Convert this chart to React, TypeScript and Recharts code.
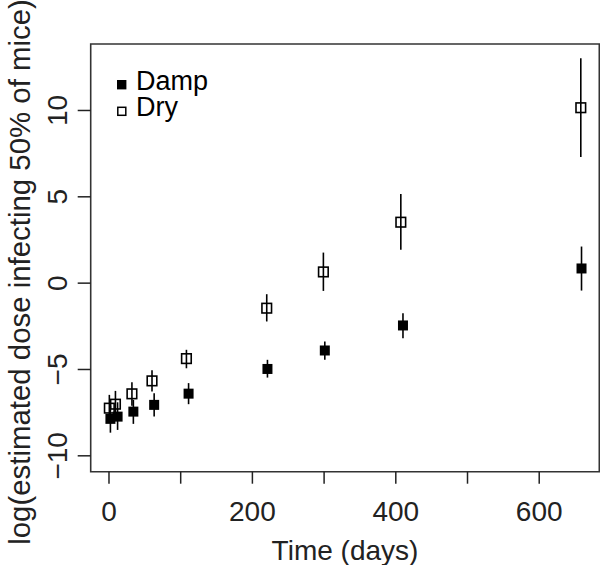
import { ScatterChart, Scatter, XAxis, YAxis, ErrorBar, ReferenceArea, Legend } from 'recharts'

// time points (days), one set per condition (slightly jittered in the source)
const dampDays = [2, 12, 34, 63, 111, 221, 301, 410, 659]
const dampDose = [-7.86, -7.73, -7.44, -7.05, -6.4, -4.97, -3.9, -2.45, 0.85]
const dampLow = [-8.66, -8.5, -8.15, -7.73, -7.01, -5.47, -4.44, -3.19, -0.43]
const dampHigh = [-7.1, -6.9, -6.76, -6.37, -5.79, -4.44, -3.38, -1.74, 2.12]

const dryDays = [0.5, 9, 32, 60, 108, 220, 299, 407, 658]
const dryDose = [-7.24, -7.01, -6.41, -5.66, -4.37, -1.45, 0.65, 3.53, 10.16]
const dryLow = [-7.9, -7.7, -7.1, -6.28, -4.93, -2.22, -0.45, 1.93, 7.3]
const dryHigh = [-6.47, -6.24, -5.74, -5.04, -3.86, -0.64, 1.77, 5.16, 13.03]

const xTicks = [0, 100, 200, 300, 400, 500, 600]
const xLabelled = [0, 200, 400, 600]
const yTicks = [-10, -5, 0, 5, 10]

const X_DOMAIN: [number, number] = [-25.5, 683.8]
const Y_DOMAIN: [number, number] = [-10.92, 13.85]

const W = 600
const H = 565
const LEFT = 90.7
const TOP = 44
const BOTTOM = 471.7
const FONT = '"Liberation Sans", Arial, sans-serif'
const INK = '#222'

const toRows = (xs: number[], ys: number[], lo: number[], hi: number[]) =>
  xs.map((x, i) => ({ x, y: ys[i], err: [ys[i] - lo[i], hi[i] - ys[i]] }))

const dampRows = toRows(dampDays, dampDose, dampLow, dampHigh)
const dryRows = toRows(dryDays, dryDose, dryLow, dryHigh)

const FilledSquare = (p: any) => (
  <rect x={p.cx - 5} y={p.cy - 5} width={10} height={10} fill="#000" />
)
const OpenSquare = (p: any) => (
  <rect x={p.cx - 4.8} y={p.cy - 4.8} width={9.6} height={9.6} fill="none" stroke="#000" strokeWidth={1.6} />
)

const XTick = (p: any) => {
  const v = p.payload.value
  if (!xLabelled.includes(v)) return <g />
  return (
    <text x={p.x} y={BOTTOM + 49} textAnchor="middle" fontSize={28} fontFamily={FONT} fill={INK}>
      {v}
    </text>
  )
}

const YTick = (p: any) => {
  const bx = LEFT - 24
  const v = p.payload.value
  return (
    <text
      x={bx}
      y={p.y}
      transform={`rotate(-90, ${bx}, ${p.y})`}
      textAnchor="middle"
      fontSize={28}
      fontFamily={FONT}
      fill={INK}
    >
      {v < 0 ? `\u2212${Math.abs(v)}` : v}
    </text>
  )
}

// the title runs past the top edge in the original too
const YTitle = () => {
  const bx = 30
  const cy = 272
  return (
    <text
      x={bx}
      y={cy}
      transform={`rotate(-90, ${bx}, ${cy})`}
      textAnchor="middle"
      fontSize={29.4}
      fontFamily={FONT}
      fill={INK}
    >
      log(estimated dose infecting 50% of mice)
    </text>
  )
}

const XTitle = () => (
  <text x={345} y={560} textAnchor="middle" fontSize={28} fontFamily={FONT} fill={INK}>
    Time (days)
  </text>
)

const LegendBox = () => (
  <svg width={120} height={60} style={{ overflow: 'visible' }}>
    <rect x={0} y={0} width={9.4} height={9.4} fill="#000" />
    <text x={19} y={9.5} fontSize={27} fontFamily={FONT} fill="#000">Damp</text>
    <rect x={0.8} y={27.3} width={8} height={8} fill="none" stroke="#000" strokeWidth={1.5} />
    <text x={19} y={36} fontSize={27} fontFamily={FONT} fill="#000">Dry</text>
  </svg>
)

export default function App() {
  return (
    <div style={{ position: 'absolute', left: 0, top: 0, background: '#fff' }}>
      <ScatterChart width={W} height={H} margin={{ top: TOP, right: 0.7, bottom: 0, left: 0 }}>
        <XAxis
          type="number"
          dataKey="x"
          domain={X_DOMAIN}
          ticks={xTicks}
          allowDataOverflow
          axisLine={false}
          tickSize={12}
          tickLine={{ stroke: INK, strokeWidth: 1.5 }}
          tick={<XTick />}
          height={H - BOTTOM}
          label={{ content: <XTitle /> }}
        />
        <YAxis
          type="number"
          dataKey="y"
          domain={Y_DOMAIN}
          ticks={yTicks}
          allowDataOverflow
          axisLine={false}
          tickSize={13}
          tickLine={{ stroke: INK, strokeWidth: 1.5 }}
          tick={<YTick />}
          width={LEFT}
          label={{ content: <YTitle /> }}
        />
        <ReferenceArea
          x1={X_DOMAIN[0]}
          x2={X_DOMAIN[1]}
          y1={Y_DOMAIN[0]}
          y2={Y_DOMAIN[1]}
          fill="none"
          stroke="#333"
          strokeWidth={1.6}
          ifOverflow="visible"
        />
        <Legend
          layout="vertical"
          align="center"
          verticalAlign="middle"
          wrapperStyle={{ left: 117, top: 79.5, width: 120, height: 60 }}
          content={<LegendBox />}
        />
        <Scatter name="Dry" data={dryRows} shape={<OpenSquare />} isAnimationActive={false}>
          <ErrorBar dataKey="err" direction="y" width={0} stroke="#000" strokeWidth={1.6} />
        </Scatter>
        <Scatter name="Damp" data={dampRows} shape={<FilledSquare />} isAnimationActive={false}>
          <ErrorBar dataKey="err" direction="y" width={0} stroke="#000" strokeWidth={1.6} />
        </Scatter>
      </ScatterChart>
    </div>
  )
}
